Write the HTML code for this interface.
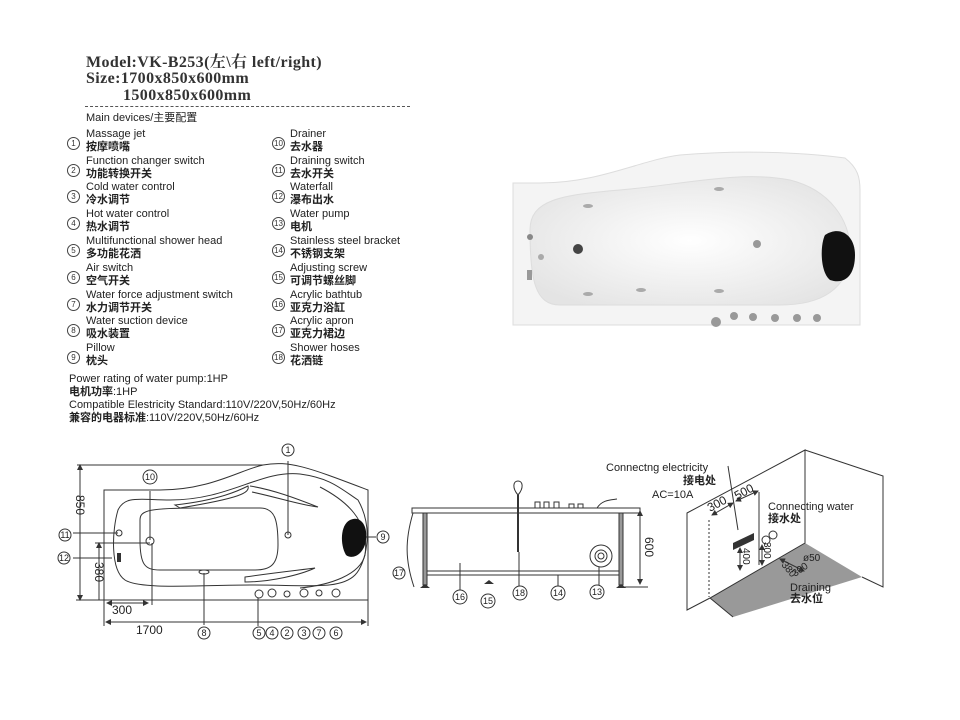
<!DOCTYPE html>
<html><head><meta charset="utf-8"><style>
body{margin:0;background:#fff;width:960px;height:720px;overflow:hidden;position:relative;font-family:"Liberation Sans","Noto Sans CJK SC",sans-serif;color:#222}
.t{position:absolute;white-space:nowrap}
.h{font-family:"Liberation Serif","Noto Serif CJK SC",serif;font-weight:bold;font-size:16px;line-height:16px;letter-spacing:0.4px;color:#333}
.s{font-size:11px;line-height:13px;color:#222}
.n{position:absolute;width:11px;height:11px;border:1px solid #444;border-radius:50%;font-size:8px;line-height:11px;text-align:center;color:#333}
</style></head><body>
<div class="t h" style="left:86px;top:55px">Model:VK-B253(左\右 left/right)</div>
<div class="t h" style="left:86px;top:71px">Size:1700x850x600mm</div>
<div class="t h" style="left:123px;top:88px">1500x850x600mm</div>
<div style="position:absolute;left:85px;top:106px;width:325px;border-top:1px dashed #555"></div>
<div class="t s" style="left:86px;top:112px">Main devices/主要配置</div>

<div class="t s" style="left:86px;top:128px">Massage jet<br><b>按摩喷嘴</b></div>
<div class="t s" style="left:86px;top:155px">Function changer switch<br><b>功能转换开关</b></div>
<div class="t s" style="left:86px;top:181px">Cold water control<br><b>冷水调节</b></div>
<div class="t s" style="left:86px;top:208px">Hot water control<br><b>热水调节</b></div>
<div class="t s" style="left:86px;top:235px">Multifunctional shower head<br><b>多功能花洒</b></div>
<div class="t s" style="left:86px;top:262px">Air switch<br><b>空气开关</b></div>
<div class="t s" style="left:86px;top:289px">Water force adjustment switch<br><b>水力调节开关</b></div>
<div class="t s" style="left:86px;top:315px">Water suction device<br><b>吸水装置</b></div>
<div class="t s" style="left:86px;top:342px">Pillow<br><b>枕头</b></div>

<div class="t s" style="left:290px;top:128px">Drainer<br><b>去水器</b></div>
<div class="t s" style="left:290px;top:155px">Draining switch<br><b>去水开关</b></div>
<div class="t s" style="left:290px;top:181px">Waterfall<br><b>瀑布出水</b></div>
<div class="t s" style="left:290px;top:208px">Water pump<br><b>电机</b></div>
<div class="t s" style="left:290px;top:235px">Stainless steel bracket<br><b>不锈钢支架</b></div>
<div class="t s" style="left:290px;top:262px">Adjusting screw<br><b>可调节螺丝脚</b></div>
<div class="t s" style="left:290px;top:289px">Acrylic bathtub<br><b>亚克力浴缸</b></div>
<div class="t s" style="left:290px;top:315px">Acrylic apron<br><b>亚克力裙边</b></div>
<div class="t s" style="left:290px;top:342px">Shower hoses<br><b>花洒链</b></div>

<div class="n" style="left:67px;top:137px">1</div><div class="n" style="left:67px;top:164px">2</div>
<div class="n" style="left:67px;top:190px">3</div><div class="n" style="left:67px;top:217px">4</div>
<div class="n" style="left:67px;top:244px">5</div><div class="n" style="left:67px;top:271px">6</div>
<div class="n" style="left:67px;top:298px">7</div><div class="n" style="left:67px;top:324px">8</div>
<div class="n" style="left:67px;top:351px">9</div>
<div class="n" style="left:272px;top:137px">10</div><div class="n" style="left:272px;top:164px">11</div>
<div class="n" style="left:272px;top:190px">12</div><div class="n" style="left:272px;top:217px">13</div>
<div class="n" style="left:272px;top:244px">14</div><div class="n" style="left:272px;top:271px">15</div>
<div class="n" style="left:272px;top:298px">16</div><div class="n" style="left:272px;top:324px">17</div>
<div class="n" style="left:272px;top:351px">18</div>

<div class="t s" style="left:69px;top:373px;line-height:13px">Power rating of water pump:1HP<br><b>电机功率</b>:1HP<br>Compatible Elestricity Standard:110V/220V,50Hz/60Hz<br><b>兼容的电器标准</b>:110V/220V,50Hz/60Hz</div>

<svg width="960" height="720" style="position:absolute;left:0;top:0" font-family="Liberation Sans, Noto Sans CJK SC, sans-serif">
<defs>
<radialGradient id="g" cx="0.5" cy="0.5" r="0.6"><stop offset="0" stop-color="#fff"/><stop offset="1" stop-color="#e4e4e4"/></radialGradient>
<marker id="a" markerWidth="6" markerHeight="6" refX="5" refY="3" orient="auto-start-reverse"><path d="M0,0 L6,3 L0,6z" fill="#333"/></marker>
</defs>
<path d="M513,183 L540,183 C600,183 640,160 680,155 C740,150 800,152 845,158 C858,168 860,178 860,190 L860,325 L513,325 Z" fill="#f4f4f4" stroke="#ddd"/>
<path d="M530,230 C530,200 560,195 620,190 C680,185 740,170 790,180 C830,190 850,220 850,250 C850,290 820,305 780,305 L560,305 C535,305 530,280 530,230Z" fill="url(#g)" stroke="#ddd"/>
<path d="M825,235 C840,225 855,235 855,255 C855,275 845,285 830,280 C820,272 820,245 825,235Z" fill="#111"/>
<circle cx="578" cy="249" r="5" fill="#444"/><circle cx="757" cy="244" r="4" fill="#999"/>
<circle cx="541" cy="257" r="3" fill="#aaa"/><circle cx="530" cy="237" r="3" fill="#888"/><rect x="527" y="270" width="5" height="10" fill="#999"/>
<g fill="#aaa"><ellipse cx="588" cy="206" rx="5" ry="2"/><ellipse cx="719" cy="189" rx="5" ry="2"/><ellipse cx="588" cy="294" rx="5" ry="2"/><ellipse cx="641" cy="290" rx="5" ry="2"/><ellipse cx="719" cy="291" rx="5" ry="2"/></g>
<g fill="#999"><circle cx="716" cy="322" r="5"/><circle cx="734" cy="316" r="4"/><circle cx="753" cy="317" r="4"/><circle cx="775" cy="318" r="4"/><circle cx="797" cy="318" r="4"/><circle cx="817" cy="318" r="4"/></g>

<g fill="none" stroke="#333" stroke-width="1">
<path d="M77,465 L263,465 C290,460 310,468 368,490 L368,600 L104,600 L104,490 L160,490 C210,490 240,470 263,465"/>
<path d="M118,510 C125,495 140,500 170,500 C230,500 260,470 300,474 C330,478 340,488 358,500 C375,530 365,565 355,575 C340,590 310,585 250,585 C200,585 140,590 125,580 C110,570 112,530 118,510Z"/>
<path d="M140,520 C140,510 150,508 200,508 L260,508 C275,508 278,520 278,545 C278,565 270,570 255,570 L160,570 C145,570 140,565 140,540Z"/>
<path d="M175,505 C220,500 240,490 248,486 C250,493 240,498 180,508Z"/>
<path d="M250,486 C275,490 300,500 318,507 C300,505 280,498 252,492"/>
<path d="M245,577 C280,572 300,570 315,568 C300,575 270,582 245,582Z"/>
<path d="M320,487 C345,500 370,520 365,555 C360,575 330,585 300,588"/>
<line x1="80" y1="465" x2="80" y2="600" marker-start="url(#a)" marker-end="url(#a)"/>
<line x1="99" y1="543" x2="99" y2="600" marker-start="url(#a)"/>
<line x1="76" y1="600" x2="104" y2="600"/>
<line x1="95" y1="543" x2="150" y2="543"/>
<line x1="107" y1="603" x2="148" y2="603" marker-start="url(#a)" marker-end="url(#a)"/>
<line x1="152" y1="543" x2="152" y2="605"/>
<line x1="104" y1="600" x2="104" y2="626"/><line x1="368" y1="600" x2="368" y2="626"/>
<line x1="106" y1="622" x2="366" y2="622" marker-start="url(#a)" marker-end="url(#a)"/>
<line x1="150" y1="491" x2="150" y2="540"/>
<line x1="288" y1="461" x2="288" y2="535"/>
<line x1="204" y1="573" x2="204" y2="625"/>
<line x1="353" y1="537" x2="376" y2="537"/>
<line x1="73" y1="533" x2="118" y2="533"/><line x1="73" y1="558" x2="112" y2="558"/>
<line x1="258" y1="598" x2="258" y2="626"/>
</g>
<path d="M350,520 C360,515 368,525 366,540 C364,555 352,560 346,555 C340,545 340,525 350,520Z" fill="#111"/>
<g fill="none" stroke="#333"><circle cx="288" cy="535" r="3"/><circle cx="150" cy="541" r="4"/><circle cx="119" cy="533" r="3"/><ellipse cx="204" cy="572" rx="5" ry="2"/>
<circle cx="259" cy="594" r="4"/><circle cx="272" cy="593" r="4"/><circle cx="287" cy="594" r="3"/><circle cx="304" cy="593" r="4"/><circle cx="319" cy="593" r="3"/><circle cx="336" cy="593" r="4"/></g>
<rect x="117" y="553" width="4" height="9" fill="#333"/>
<g font-size="12" fill="#222"><text x="112" y="614">300</text><text x="136" y="634">1700</text>
<text transform="translate(76,505) rotate(90)" text-anchor="middle">850</text>
<text transform="translate(95,572) rotate(90)" text-anchor="middle">380</text></g>
<g fill="#fff" stroke="#333" font-size="9"><circle cx="288" cy="450" r="6"/><circle cx="150" cy="477" r="7"/><circle cx="65" cy="535" r="6"/><circle cx="64" cy="558" r="6"/><circle cx="383" cy="537" r="6"/><circle cx="204" cy="633" r="6"/>
<circle cx="259" cy="633" r="6"/><circle cx="272" cy="633" r="6"/><circle cx="287" cy="633" r="6"/><circle cx="304" cy="633" r="6"/><circle cx="319" cy="633" r="6"/><circle cx="336" cy="633" r="6"/></g>
<g font-size="9" fill="#222" text-anchor="middle"><text x="288" y="453">1</text><text x="150" y="480">10</text><text x="65" y="538">11</text><text x="64" y="561">12</text><text x="383" y="540">9</text><text x="204" y="636">8</text>
<text x="259" y="636">5</text><text x="272" y="636">4</text><text x="287" y="636">2</text><text x="304" y="636">3</text><text x="319" y="636">7</text><text x="336" y="636">6</text></g>

<g stroke="#333" fill="none">
<rect x="412" y="508" width="228" height="5"/>
<rect x="423" y="513" width="4" height="72" fill="#999"/><rect x="619" y="513" width="4" height="72" fill="#999"/>
<rect x="427" y="571" width="192" height="4"/>
<path d="M413,513 C405,540 405,560 414,587"/>
<line x1="518" y1="495" x2="518" y2="552" stroke-width="2"/>
<path d="M518,495 C512,488 513,481 518,481 C523,481 524,488 518,495Z"/>
<line x1="519" y1="552" x2="519" y2="588"/>
<rect x="535" y="502" width="5" height="6"/><rect x="544" y="502" width="5" height="6"/><rect x="554" y="502" width="5" height="6"/><rect x="569" y="504" width="5" height="4"/><rect x="578" y="504" width="5" height="4"/>
<path d="M597,508 C602,500 610,500 617,499"/>
<circle cx="601" cy="556" r="11"/><circle cx="601" cy="556" r="6"/><circle cx="601" cy="556" r="3"/>
<line x1="640" y1="511" x2="640" y2="584" marker-start="url(#a)" marker-end="url(#a)"/>
<line x1="624" y1="587" x2="648" y2="587"/>
<line x1="460" y1="563" x2="460" y2="590"/><line x1="558" y1="575" x2="558" y2="588"/><line x1="599" y1="567" x2="599" y2="586"/>
</g>
<path d="M420,588 l5,-4 l5,4z M616,588 l5,-4 l5,4z M484,584 l5,-4 l5,4z" fill="#333"/>
<text transform="translate(645,547) rotate(90)" text-anchor="middle" font-size="12" fill="#222">600</text>
<g fill="#fff" stroke="#333"><circle cx="399" cy="573" r="6"/><circle cx="460" cy="597" r="7"/><circle cx="488" cy="601" r="7"/><circle cx="520" cy="593" r="7"/><circle cx="558" cy="593" r="7"/><circle cx="597" cy="592" r="7"/></g>
<g font-size="9" fill="#222" text-anchor="middle"><text x="399" y="576">17</text><text x="460" y="600">16</text><text x="488" y="604">15</text><text x="520" y="596">18</text><text x="558" y="596">14</text><text x="597" y="595">13</text></g>

<polygon points="805,543 862,577 733,617 710,598" fill="#999"/>
<g fill="none" stroke="#333">
<polygon points="687,513 805,450 805,543 710,598 687,610"/>
<polyline points="805,450 883,476 883,587 862,577"/>
<line x1="710" y1="598" x2="733" y2="617"/>
<line x1="709" y1="520" x2="709" y2="597" stroke-dasharray="2,2"/>
<line x1="712" y1="515" x2="733" y2="503" marker-start="url(#a)" marker-end="url(#a)"/>
<line x1="736" y1="501" x2="758" y2="491" marker-start="url(#a)" marker-end="url(#a)"/>
<line x1="759" y1="492" x2="759" y2="565"/>
<line x1="740" y1="548" x2="740" y2="570" marker-start="url(#a)" marker-end="url(#a)"/>
<line x1="762" y1="545" x2="762" y2="565" marker-start="url(#a)" marker-end="url(#a)"/>
<line x1="728" y1="466" x2="738" y2="530"/>
<line x1="780" y1="559" x2="804" y2="571" marker-start="url(#a)" marker-end="url(#a)"/>
<circle cx="766" cy="540" r="4"/><circle cx="773" cy="535" r="4"/>
</g>
<polygon points="733,543 754,533 754,540 733,550" fill="#333"/>
<g font-size="11" fill="#222"><text x="606" y="471">Connectng electricity</text><text x="683" y="484" font-weight="bold">接电处</text><text x="652" y="498">AC=10A</text>
<text x="768" y="510">Connecting water</text><text x="768" y="522" font-weight="bold">接水处</text>
<text x="790" y="591">Draining</text><text x="790" y="602" font-weight="bold">去水位</text>
<text transform="translate(710,512) rotate(-28)" font-size="12">300</text><text transform="translate(737,500) rotate(-28)" font-size="12">500</text>
<text transform="translate(743,548) rotate(90)" font-size="10">400</text><text transform="translate(764,542) rotate(90)" font-size="10">300</text>
<text x="803" y="561" font-size="10">ø50</text>
<text transform="translate(781,565) rotate(50)" font-size="10">380</text><text transform="translate(795,577) rotate(-35)" font-size="10">300</text></g>
</svg>
</body></html>
